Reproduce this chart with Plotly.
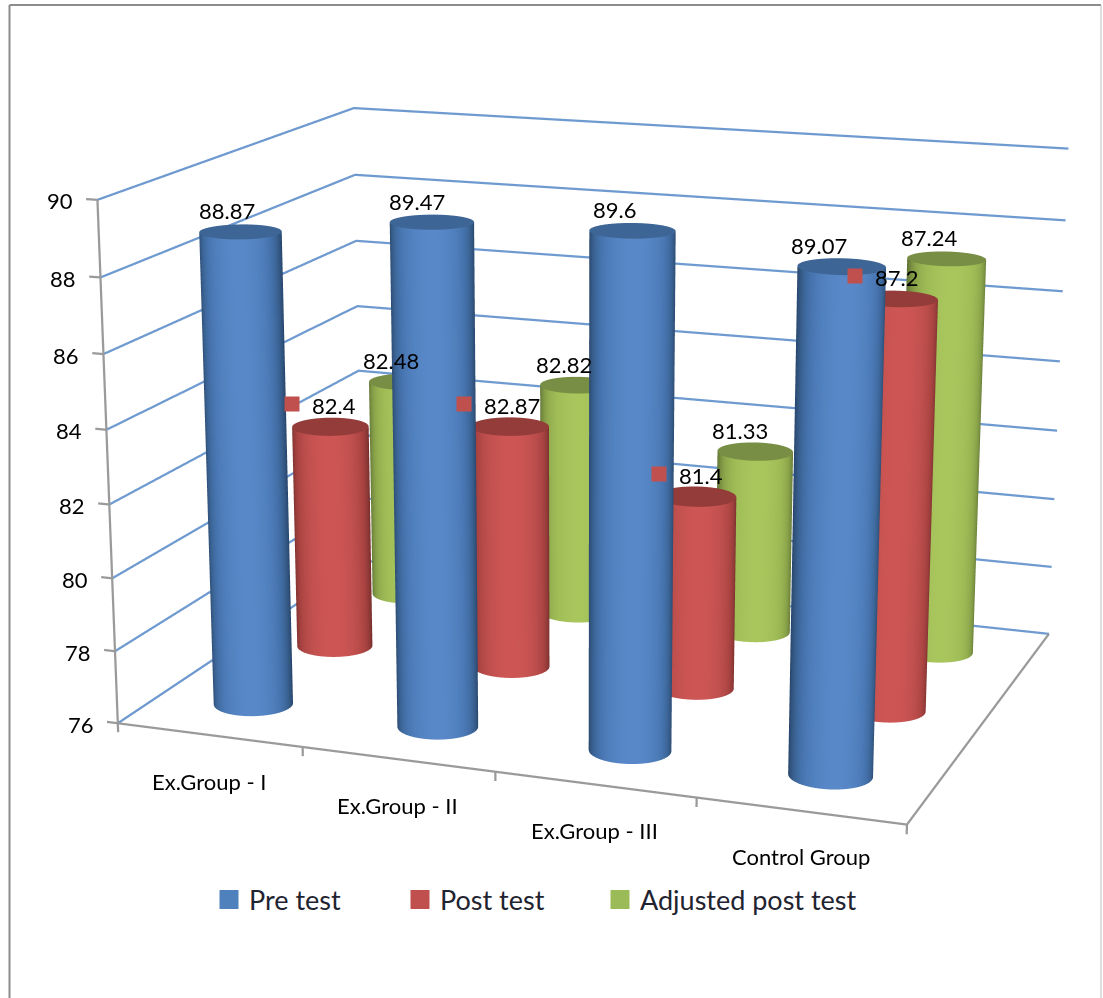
import numpy as np
import plotly.graph_objects as go

categories = ["Ex.Group - I", "Ex.Group - II", "Ex.Group - III", "Control Group"]
series_names = ["Pre test", "Post test", "Adjusted post test"]
pre_test = [88.87, 89.47, 89.6, 89.07]
post_test = [82.4, 82.87, 81.4, 87.2]
adjusted_post_test = [82.48, 82.82, 81.33, 87.24]
z_ticks = [76, 78, 80, 82, 84, 86, 88, 90]
series = [pre_test, post_test, adjusted_post_test]

# Camera for a long-lens view of the box
EYE = np.array([1.354, -3.806, 1.030])
CEN = np.array([-0.0188, -0.1335, -0.0568])
UP = [0.0011, 0.0023, 1.0]
ASPECT = np.array([1.0, 0.750, 0.6534])
FOVY = 2 * np.arctan(np.tan(np.pi / 8) / 2.75)

# The plotted box, with a small pad so lines on its faces are not clipped
XA, XB = -0.5, 3.5
YA, YB = -0.5, 2.5
ZA, ZB = z_ticks[0], z_ticks[-1]
PAD = 0.05

R_X, R_Y = 0.2, 0.19
theta = np.linspace(0, 2 * np.pi, 97)

FLAT = dict(ambient=1, diffuse=0, specular=0, fresnel=0, roughness=1)
side_scales = [
    [[0, "#24426a"], [0.3, "#335680"], [0.55, "#3f6a9f"], [0.75, "#4a78b4"], [1, "#5888c8"]],
    [[0, "#6f2a29"], [0.3, "#8c3836"], [0.55, "#a84341"], [0.75, "#b84c4a"], [1, "#cd5654"]],
    [[0, "#5c6f32"], [0.3, "#72873e"], [0.55, "#8aa44a"], [0.75, "#9ab653"], [1, "#a8c65c"]],
]
cap_colors = ["#3d6595", "#943c3a", "#778e44"]
key_colors = ["#4f81bd", "#c0504d", "#9bbb59"]
GRID = "#6e9ad0"
AXIS = "#9a9a9a"

# Facing amount of each point of a cylinder wall towards the camera
view = (EYE - CEN)[:2]
view = view / np.linalg.norm(view)
nx = np.cos(theta) / (R_X * ASPECT[0] / 4)
ny = np.sin(theta) / (R_Y * ASPECT[1] / 3)
facing = np.clip((nx * view[0] + ny * view[1]) / np.hypot(nx, ny), 0, 1)

fig = go.Figure()
for j in (2, 1, 0):
    for i, v in enumerate(series[j]):
        xr = i + R_X * np.cos(theta)
        yr = j + R_Y * np.sin(theta)
        fig.add_trace(go.Surface(
            x=np.vstack([xr, xr]), y=np.vstack([yr, yr]),
            z=np.vstack([np.full_like(xr, ZA), np.full_like(xr, v)]),
            surfacecolor=np.vstack([facing, facing]), cmin=0, cmax=1,
            colorscale=side_scales[j], showscale=False, hoverinfo="skip", lighting=FLAT))
        fig.add_trace(go.Surface(
            x=np.vstack([np.full_like(xr, i), xr]), y=np.vstack([np.full_like(yr, j), yr]),
            z=np.full((2, len(xr)), v),
            surfacecolor=np.zeros((2, len(xr))), cmin=0, cmax=1,
            colorscale=[[0, cap_colors[j]], [1, cap_colors[j]]],
            showscale=False, hoverinfo="skip", lighting=FLAT))


def segment(xs, ys, zs, color, width=4.5):
    fig.add_trace(go.Scatter3d(x=xs, y=ys, z=zs, mode="lines",
                               line=dict(color=color, width=width),
                               showlegend=False, hoverinfo="skip"))


# Gridlines run along the left and back walls
for z in z_ticks:
    segment([XA, XA, XB], [YA, YB, YB], [z, z, z], GRID)
    segment([XA, XA - 0.06], [YA, YA], [z, z], AXIS)
segment([XA, XA], [YA, YA], [ZA, ZB], AXIS)
segment([XA, XB, XB], [YA, YA, YB], [ZA, ZA, ZA], AXIS)
for k in range(len(categories) + 1):
    segment([XA + k, XA + k], [YA, YA], [ZA, ZA - 0.25], AXIS)

# Legend entries
for name, color, entry in zip(series_names, key_colors, (146, 155, 230)):
    fig.add_trace(go.Scatter3d(x=[None], y=[None], z=[None], mode="markers", name=name, legendwidth=entry,
                               marker=dict(symbol="square", size=16, color=color,
                                           line=dict(color=color, width=3))))

notes = []
LABEL = dict(family="Lato", size=22, color="#000000")
for z in z_ticks:
    notes.append(dict(x=XA, y=YA, z=z, text=str(z), showarrow=False, xanchor="right",
                      xshift=-22, yshift=-1, font=LABEL))
for i, c in enumerate(categories):
    notes.append(dict(x=i, y=YA, z=ZA, text=c, showarrow=False, yshift=-46, font=LABEL))

# Small sideways offsets that keep value labels clear of their neighbours
label_nudges = {0: [2, 0, -3, -8], 2: [1, 2, 0, -3]}
for j in (0, 2):
    for i, v in enumerate(series[j]):
        notes.append(dict(x=i, y=j, z=v, text=str(v), showarrow=False,
                          xshift=-15 + label_nudges[j][i], yshift=21, font=LABEL))
post_square_nudges = [3, -5, 3, 0]
post_text_nudges = [1, -7, 1, -2]
for i, v in enumerate(post_test):
    notes.append(dict(x=i, y=1, z=v, text=str(v), showarrow=False, xanchor="left",
                      xshift=-21 + post_text_nudges[i], yshift=21, font=LABEL))
    notes.append(dict(x=i, y=1, z=v, text=" ", showarrow=False, xshift=-41 + post_square_nudges[i], yshift=23,
                      width=14, height=14, borderpad=0, bgcolor=key_colors[1], font=dict(size=8)))

W, H = 1103, 998
camera = dict(eye=dict(x=EYE[0], y=EYE[1], z=EYE[2]), center=dict(x=CEN[0], y=CEN[1], z=CEN[2]),
              up=dict(x=UP[0], y=UP[1], z=UP[2]), projection=dict(type="perspective"))
fig.update_layout(
    width=W, height=H, margin=dict(l=0, r=0, t=0, b=0), paper_bgcolor="white",
    scene=dict(
        domain=dict(x=[0, 1], y=[0, 1]), bgcolor="white", aspectmode="manual",
        aspectratio=dict(x=ASPECT[0] * (1 + 2 * PAD), y=ASPECT[1] * (1 + 2 * PAD), z=ASPECT[2] * (1 + 2 * PAD)),
        camera=camera,
        xaxis=dict(range=[XA - PAD * (XB - XA), XB + PAD * (XB - XA)], visible=False),
        yaxis=dict(range=[YA - PAD * (YB - YA), YB + PAD * (YB - YA)], visible=False),
        zaxis=dict(range=[ZA - PAD * (ZB - ZA), ZB + PAD * (ZB - ZA)], visible=False),
        annotations=notes),
    legend=dict(orientation="h", x=209 / W, xanchor="left", y=1 - 900 / H, yanchor="middle",
                itemsizing="trace",
                font=dict(family="Lato", size=27, color="#1f2430")),
    shapes=[
        dict(type="line", xref="paper", yref="paper", x0=9.5 / W, x1=9.5 / W, y0=0, y1=1 - 5 / H,
             line=dict(color="#8c8c8c", width=2)),
        dict(type="line", xref="paper", yref="paper", x0=9.5 / W, x1=1101 / W, y0=1 - 5 / H, y1=1 - 5 / H,
             line=dict(color="#8c8c8c", width=2)),
        dict(type="line", xref="paper", yref="paper", x0=1101 / W, x1=1101 / W, y0=0, y1=1 - 5 / H,
             line=dict(color="#bdbdbd", width=1)),
    ])

# Narrow the lens of the 3D view once the scene exists, then re-apply the camera to repaint
lens = """
var gd = document.getElementsByClassName('plotly-graph-div')[0];
gd._fullLayout.scene._scene.glplot.fovy = %f;
Plotly.relayout(gd, {'scene.camera': %s});
""" % (FOVY, fig.layout.scene.camera.to_json())
fig.write_html("out.html", post_script=lens)
